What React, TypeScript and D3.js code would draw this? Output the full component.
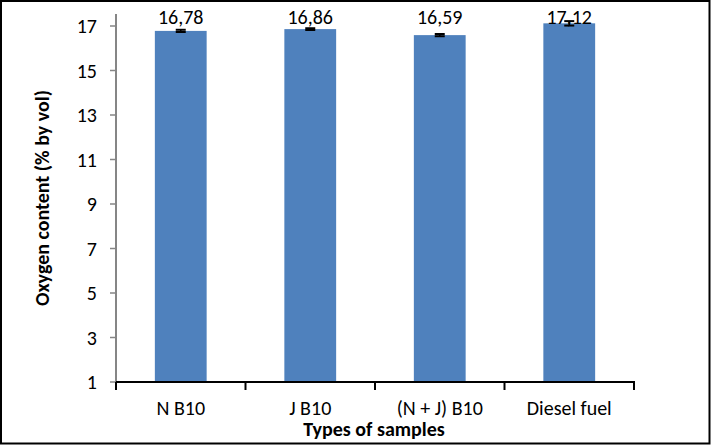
import React from "react";
import * as d3 from "d3";

const categories = ["N B10", "J B10", "(N + J) B10", "Diesel fuel"];
const values = [16.78, 16.86, 16.59, 17.12];
const valueLabels = ["16,78", "16,86", "16,59", "17,12"];
const errors = [0.05, 0.04, 0.05, 0.1];
const yTicks = [1, 3, 5, 7, 9, 11, 13, 15, 17];

const W = 711;
const H = 445;
const FONT = "Carlito, Calibri, 'Liberation Sans', sans-serif";
const FS = 20;

export default function App() {
  const x = d3.scaleBand<string>().domain(categories).range([116, 634]).padding(0);
  const y = d3.scaleLinear().domain([1, 17]).range([382, 26]);
  const bw = x.bandwidth() * 0.4;
  const labelY = 24;

  return (
    <svg
      width={W}
      height={H}
      style={{ position: "absolute", left: 0, top: 0 }}
      fontFamily={FONT}
    >
      <rect x={0} y={0} width={W} height={H} fill="#fff" />
      <rect x={1} y={1} width={W - 2.5} height={H - 2.5} fill="none" stroke="#000" strokeWidth={2} />

      {/* bars */}
      {categories.map((c, i) => {
        const cx = (x(c) as number) + x.bandwidth() / 2;
        return (
          <g key={c}>
            <rect x={cx - bw / 2} y={y(values[i])} width={bw} height={y(1) - y(values[i])} fill="#4F81BD" />
            <line x1={cx} x2={cx} y1={y(values[i] - errors[i])} y2={y(values[i] + errors[i])} stroke="#000" strokeWidth={1.5} />
            <line x1={cx - 5} x2={cx + 5} y1={y(values[i] + errors[i])} y2={y(values[i] + errors[i])} stroke="#000" strokeWidth={2} />
            <line x1={cx - 5} x2={cx + 5} y1={y(values[i] - errors[i])} y2={y(values[i] - errors[i])} stroke="#000" strokeWidth={2} />
            <text x={cx} y={labelY} textAnchor="middle" fontSize={FS} fill="#000">
              {valueLabels[i]}
            </text>
          </g>
        );
      })}

      {/* y axis */}
      <line x1={116} x2={116} y1={14} y2={382} stroke="#868686" strokeWidth={2} />
      {yTicks.map((t) => (
        <g key={t}>
          <line x1={110} x2={116} y1={y(t)} y2={y(t)} stroke="#868686" strokeWidth={1.5} />
          <text x={97} y={y(t)} dy="0.35em" textAnchor="end" fontSize={FS} fill="#000">
            {t}
          </text>
        </g>
      ))}

      {/* x axis */}
      <line x1={116} x2={635} y1={382} y2={382} stroke="#000" strokeWidth={2} />
      {[...categories.map((c) => x(c) as number), 634].map((px, i) => (
        <line key={i} x1={px} x2={px} y1={382} y2={390} stroke="#000" strokeWidth={2} />
      ))}
      {categories.map((c) => (
        <text key={c} x={(x(c) as number) + x.bandwidth() / 2} y={408} dy="0.35em" textAnchor="middle" fontSize={FS} fill="#000">
          {c}
        </text>
      ))}

      <text x={374} y={429} dy="0.35em" textAnchor="middle" fontSize={FS} fontWeight="bold" fill="#000">
        Types of samples
      </text>
      <text
        transform={`translate(42,198) rotate(-90)`}
        dy="0.35em"
        textAnchor="middle"
        fontSize={FS}
        fontWeight="bold"
        fill="#000"
      >
        Oxygen content (% by vol)
      </text>
    </svg>
  );
}
